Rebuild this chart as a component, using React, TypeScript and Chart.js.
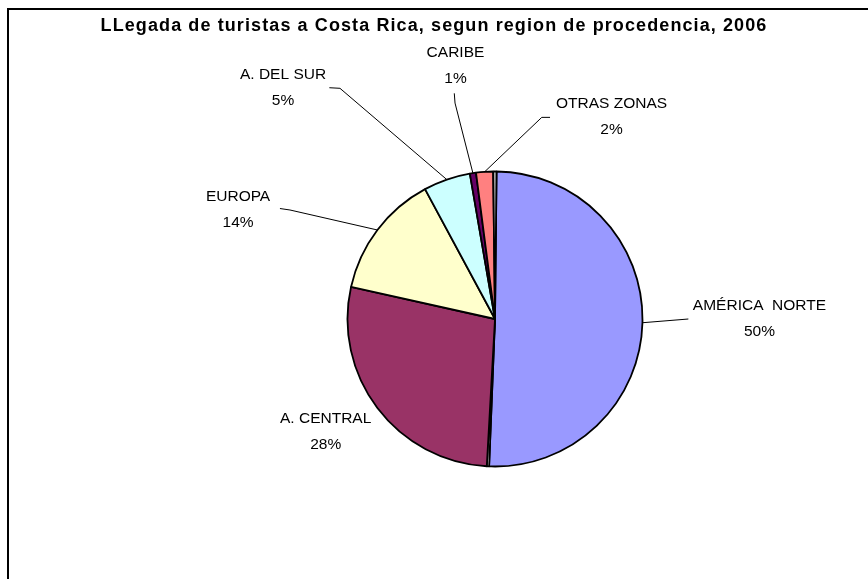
import React, { useEffect, useRef } from "react";
import { Chart, registerables } from "chart.js";

Chart.register(...registerables);

// ---- data ----
const TITLE = "LLegada de turistas a Costa Rica, segun region de procedencia, 2006";
const CATEGORIES = ["AMÉRICA  NORTE", "", "A. CENTRAL", "EUROPA", "A. DEL SUR", "CARIBE", "OTRAS ZONAS", ""];
const VALUES = [50.4, 0.25, 27.56, 13.63, 5.13, 0.67, 1.86, 0.36];
const COLORS = ["#9999FF", "#FFFFFF", "#993366", "#FFFFCC", "#CCFFFF", "#660066", "#FF8080", "#C0C0C0"];

// ---- label layout (fractions of the radius, relative to pie centre) ----
type Lay = { tx: number; ty: number; lead: number[][] | null } | null;
const LABEL_LAYOUT: Lay[] = [
  { tx: 1.793, ty: -0.088, lead: [[1.311, -0.0], [1.311, 0.0]] },
  null,
  { tx: -1.148, ty: 0.678, lead: null },
  { tx: -1.742, ty: -0.829, lead: [[-1.39, -0.739], [-1.458, -0.749]] },
  { tx: -1.437, ty: -1.654, lead: [[-1.051, -1.564], [-1.123, -1.568]] },
  { tx: -0.268, ty: -1.805, lead: [[-0.271, -1.464], [-0.276, -1.53]] },
  { tx: 0.79, ty: -1.462, lead: [[0.317, -1.367], [0.373, -1.367]] },
  null,
];

const LABEL_FONT = "15.5px 'Liberation Sans', Arial, sans-serif";
const TITLE_FONT = "bold 18px 'Liberation Sans', Arial, sans-serif";

const labelPlugin = {
  id: "excelLabels",
  afterDraw(chart: any) {
    const ctx = chart.ctx as CanvasRenderingContext2D;
    const meta = chart.getDatasetMeta(0);
    const data = chart.data.datasets[0].data as number[];
    const total = data.reduce((a, b) => a + b, 0);
    ctx.save();
    // title
    ctx.fillStyle = "#000";
    ctx.font = TITLE_FONT;
    ctx.textAlign = "center";
    ctx.textBaseline = "middle";
    try { (ctx as any).letterSpacing = "1.1px"; } catch (e) {}
    ctx.fillText(TITLE, 434, 26);
    try { (ctx as any).letterSpacing = "0px"; } catch (e) {}

    ctx.font = LABEL_FONT;
    meta.data.forEach((arc: any, i: number) => {
      const lay = LABEL_LAYOUT[i];
      const name = chart.data.labels[i];
      if (!lay || !name) return;
      const p = arc.getProps(["x", "y", "startAngle", "endAngle", "outerRadius"], true);
      const R = p.outerRadius;
      const mid = (p.startAngle + p.endAngle) / 2;
      if (lay.lead) {
        ctx.beginPath();
        ctx.strokeStyle = "#000";
        ctx.lineWidth = 1;
        ctx.moveTo(p.x + Math.cos(mid) * R, p.y + Math.sin(mid) * R);
        lay.lead.forEach((pt) => ctx.lineTo(p.x + pt[0] * R, p.y + pt[1] * R));
        ctx.stroke();
      }
      const tx = p.x + lay.tx * R;
      const ty = p.y + lay.ty * R;
      const pct = Math.round((data[i] / total) * 100) + "%";
      ctx.fillStyle = "#000";
      ctx.fillText(name, tx, ty);
      ctx.fillText(pct, tx, ty + 26);
    });
    ctx.restore();
  },
};

export default function App() {
  const ref = useRef<HTMLCanvasElement>(null);
  useEffect(() => {
    document.documentElement.style.overflow = "hidden";
    document.body.style.overflow = "hidden";
    const chart = new Chart(ref.current!, {
      type: "pie",
      data: {
        labels: CATEGORIES,
        datasets: [
          {
            data: VALUES,
            backgroundColor: COLORS,
            borderColor: "#000",
            borderWidth: 1.8,
          },
        ],
      },
      options: {
        responsive: false,
        animation: false,
        events: [],
        rotation: 0.6,
        radius: 147.5,
        layout: { padding: { left: 122, right: 0, top: 59, bottom: 0 } },
        plugins: {
          legend: { display: false },
          title: { display: false },
          tooltip: { enabled: false },
        },
      },
      plugins: [labelPlugin],
    });
    return () => chart.destroy();
  }, []);
  return (
    <div>
      <div
        style={{
          position: "fixed",
          left: 7,
          top: 8,
          width: 900,
          height: 640,
          borderLeft: "2px solid #000",
          borderTop: "2px solid #000",
          boxSizing: "border-box",
        }}
      />
      <canvas
        ref={ref}
        width={868}
        height={579}
        style={{ position: "fixed", left: 0, top: 0, width: 868, height: 579 }}
      />
    </div>
  );
}
